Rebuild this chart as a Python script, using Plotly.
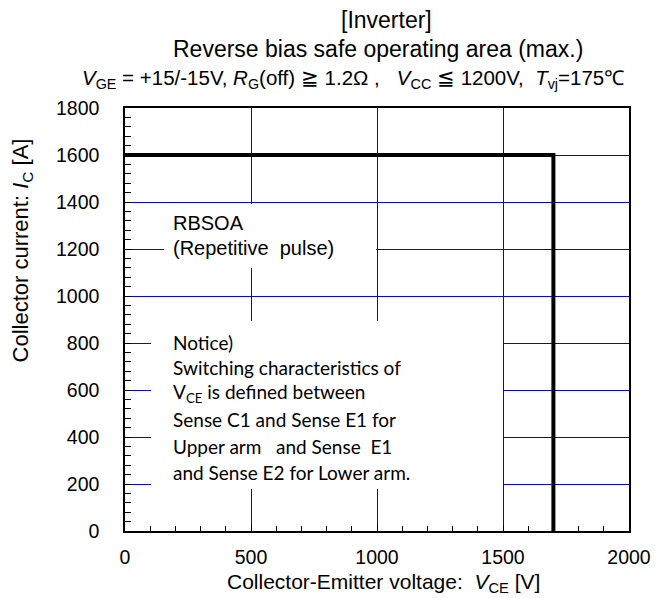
import plotly.graph_objects as go

# RBSOA boundary (max.)
v_ce = [0, 1700, 1700]
i_c = [1600, 1600, 0]

x_ticks = [0, 500, 1000, 1500, 2000]
y_ticks = [0, 200, 400, 600, 800, 1000, 1200, 1400, 1600, 1800]

title_lines = [
    "[Inverter]",
    "Reverse bias safe operating area (max.)",
    "<i>V</i><sub>GE</sub> = +15/-15V, <i>R</i><sub>G</sub>(off) \u2267 1.2\u03a9 ,\u00a0\u00a0\u00a0<i>V</i><sub>CC</sub> \u2266 1200V,\u00a0\u00a0<i>T</i><sub>vj</sub>=175\u2103",
]
rbsoa_lines = ["RBSOA", "(Repetitive\u00a0\u00a0pulse)"]
notice_lines = [
    "Notice)",
    "Switching characteristics of",
    "V<sub>CE</sub> is defined between",
    "Sense C1 and Sense E1 for",
    "Upper arm\u00a0\u00a0\u00a0and Sense\u00a0\u00a0E1",
    "and Sense E2 for Lower arm.",
]

W, H = 663, 598
L, R, T, B = 125, 22, 108, 67
PW, PH = W - L - R, H - T - B


def px(x):
    return (x - L) / PW


def py(y):
    return (H - B - y) / PH


ARIAL = "Liberation Sans, Arial, sans-serif"
CALIBRI = "Lato, Calibri, sans-serif"
GRID = "#0000ff"

fig = go.Figure()
fig.add_trace(go.Scatter(
    x=v_ce, y=i_c, mode="lines",
    line=dict(color="black", width=4),
    hoverinfo="skip", showlegend=False,
))

axis_common = dict(
    showline=True, linecolor="black", linewidth=1.5, mirror=True,
    showgrid=True, gridcolor=GRID, gridwidth=1,
    zeroline=False, ticks="inside", ticklen=6, tickcolor="black",
    tickfont=dict(family=ARIAL, size=19.5, color="black"),
)

fig.update_xaxes(
    range=[0, 2000], tickvals=x_ticks, ticktext=[str(v) for v in x_ticks],
    minor=dict(dtick=100, tick0=0, ticks="inside", ticklen=5, tickcolor="black", showgrid=False),
    ticklabelstandoff=8,
    **axis_common,
)
fig.update_yaxes(
    range=[0, 1800], tickvals=y_ticks, ticktext=[str(v) for v in y_ticks],
    minor=dict(dtick=40, tick0=0, ticks="inside", ticklen=6, tickcolor="black", showgrid=False),
    ticklabelstandoff=20,
    **axis_common,
)

annotations = []

# white panels behind the two text blocks (hide the grid, not the boundary)
for x0, x1, y0, y1 in [(165, 377, 204, 268), (152, 504, 321, 489)]:
    annotations.append(dict(text="\u00a0", x=px(x0), y=py(y0), xref="paper", yref="paper",
                            xanchor="left", yanchor="top", showarrow=False,
                            width=x1 - x0, height=y1 - y0, borderpad=0, borderwidth=0,
                            bgcolor="white", font=dict(size=10)))

# chart title (three lines)
annotations.append(dict(text=title_lines[0], x=px(393), y=py(20), xref="paper", yref="paper",
                        xanchor="center", yanchor="middle", showarrow=False,
                        font=dict(family=ARIAL, size=23, color="black")))
annotations.append(dict(text=title_lines[1], x=px(596), y=py(49), xref="paper", yref="paper",
                        xanchor="right", yanchor="middle", showarrow=False,
                        font=dict(family=ARIAL, size=23, color="black")))
annotations.append(dict(text=title_lines[2], x=px(638), y=py(79), xref="paper", yref="paper",
                        xanchor="right", yanchor="middle", showarrow=False,
                        font=dict(family=ARIAL, size=20.5, color="black")))

# axis titles
annotations.append(dict(text="Collector-Emitter voltage:\u00a0 <i>V</i><sub>CE</sub> [V]",
                        x=px(390), y=py(583), xref="paper", yref="paper",
                        xanchor="center", yanchor="middle", showarrow=False,
                        font=dict(family=ARIAL, size=21, color="black")))
annotations.append(dict(text="Collector current: <i>I</i><sub>C</sub> [A]",
                        x=px(20), y=py(250), xref="paper", yref="paper",
                        xanchor="center", yanchor="middle", textangle=-90, showarrow=False,
                        font=dict(family=ARIAL, size=22, color="black")))

# RBSOA label
for txt, yc in zip(rbsoa_lines, [223, 248]):
    annotations.append(dict(text=txt, x=px(172), y=py(yc), xref="paper", yref="paper",
                            xanchor="left", yanchor="middle", showarrow=False,
                            font=dict(family=ARIAL, size=20, color="black")))

# notice block
for txt, yc in zip(notice_lines, [342, 367, 393, 419, 446, 472]):
    annotations.append(dict(text=txt, x=px(172), y=py(yc), xref="paper", yref="paper",
                            xanchor="left", yanchor="middle", showarrow=False,
                            font=dict(family=CALIBRI, size=19, color="black")))

fig.update_layout(
    width=W, height=H,
    margin=dict(l=L, r=R, t=T, b=B, pad=0),
    paper_bgcolor="white", plot_bgcolor="white",
    annotations=annotations,
    showlegend=False,
)

fig.write_html("out.html", config={"displayModeBar": False})
